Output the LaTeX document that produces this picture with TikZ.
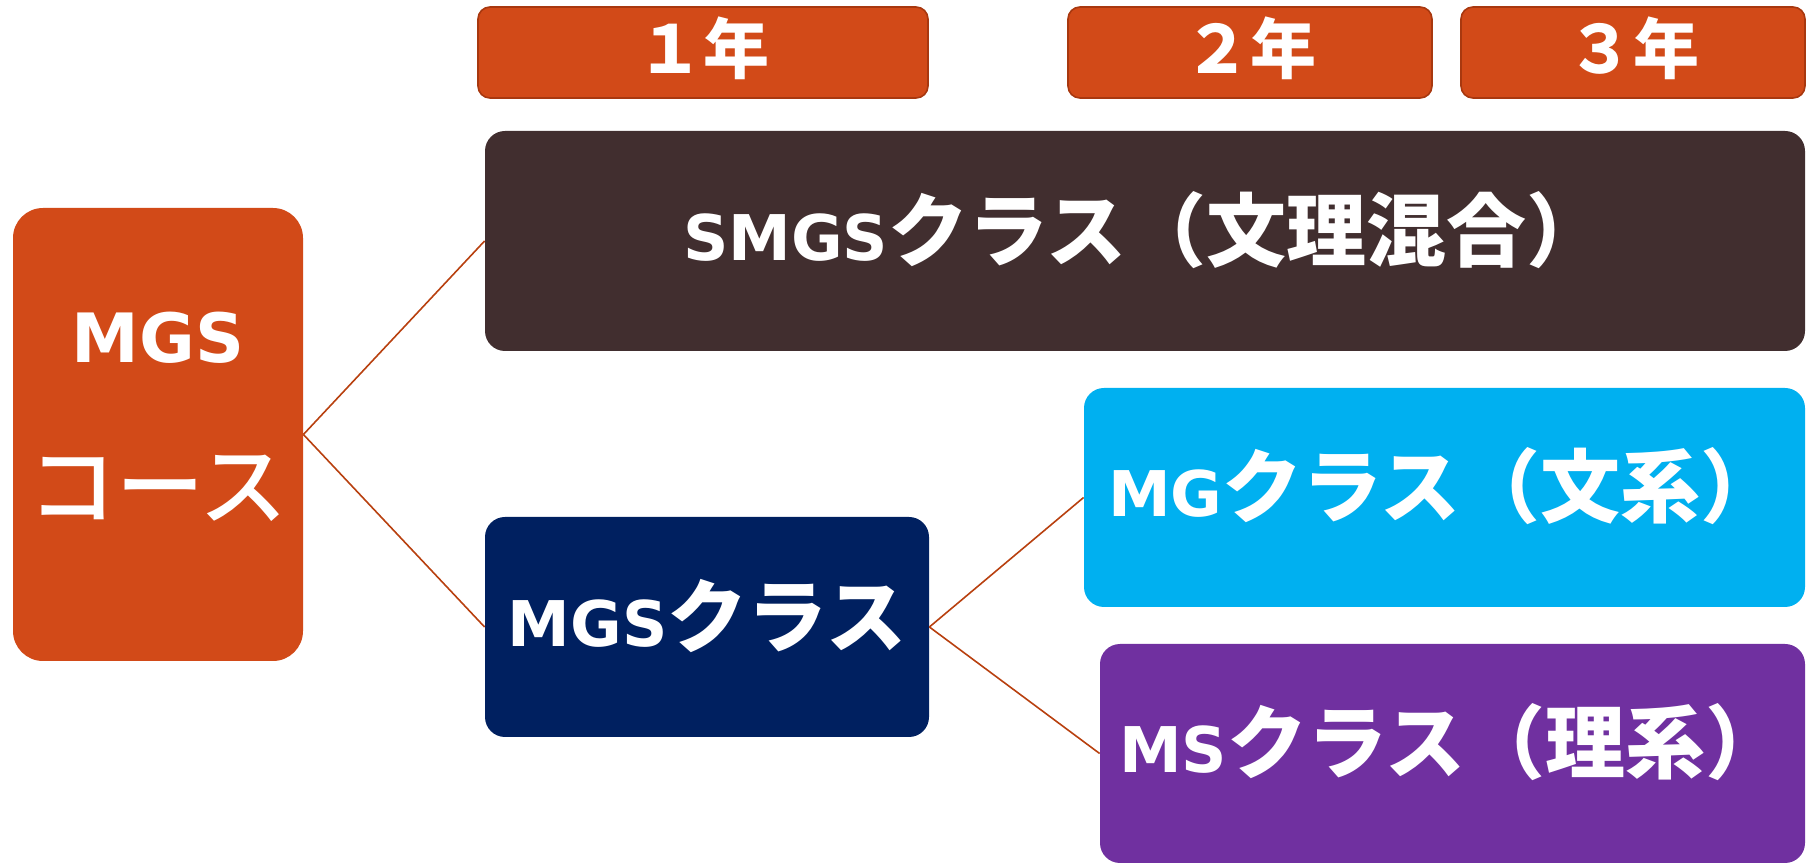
\documentclass[tikz,border=0pt]{standalone}
\usepackage{fontspec}
\setmainfont{Noto Sans CJK JP}
\newfontfamily\latinfont{DejaVu Sans}
\newfontfamily\jpmedium{Noto Sans CJK JP Medium}
\usetikzlibrary{positioning}

\definecolor{courseorange}{HTML}{D24A18}
\definecolor{yearedge}{HTML}{A8380F}
\definecolor{smgsbrown}{HTML}{412E2F}
\definecolor{mgsnavy}{HTML}{002060}
\definecolor{mgcyan}{HTML}{00B0F0}
\definecolor{mspurple}{HTML}{7030A0}
\definecolor{linkred}{HTML}{B8400F}

% latin part of a label, and a small lift of a text line
\newcommand\lat[2][31.5]{{\latinfont\fontsize{#1}{40}\selectfont\bfseries #2}}
\newcommand\lift[2][5.5pt]{\raisebox{#1}[\height][\depth]{#2}}

\begin{document}
\begin{tikzpicture}[
  x=0.5pt, y=-0.5pt,
  classbox/.style={rounded corners=10pt, text=white, align=center, inner sep=0pt,
    font=\fontsize{40}{48}\selectfont\bfseries},
  yearbox/.style={draw=yearedge, line width=0.8pt, fill=courseorange, rounded corners=6pt,
    text=white, inner sep=0pt, minimum height=45.5pt, font=\fontsize{33}{40}\selectfont\bfseries},
  link/.style={line width=0.8pt, draw=linkred}
]
\useasboundingbox (0,0) rectangle (1806,865);

% year headers
\node[yearbox, minimum width=225pt] (year1) at (703,52.5) {\lift[2pt]{１年}};
\node[yearbox, minimum width=182pt] (year2) at (1250,52.5) {\lift[2pt]{２年}};
\node[yearbox, minimum width=172pt] (year3) at (1633,52.5) {\lift[2pt]{３年}};

% course and classes
\node[classbox, fill=courseorange, rounded corners=15pt, minimum width=145pt, minimum height=226.5pt] (course) at (158,434.5)
  {\lift[9pt]{\lat[34]{MGS}}\\[30pt]\lift[9pt]{\jpmedium\mdseries\fontsize{44}{48}\selectfont コース}};
\node[classbox, fill=smgsbrown, minimum width=660pt, minimum height=110pt] (smgs) at (1145,241)
  {\lift{\lat{SMGS}クラス（文理混合）}};
\node[classbox, fill=mgsnavy, minimum width=222pt, minimum height=110pt] (mgs) at (707,627)
  {\lift{\lat{MGS}クラス}};
\node[classbox, fill=mgcyan, minimum width=360.5pt, minimum height=109.5pt] (mg) at (1444.5,497.5)
  {\lift{\lat{MG}クラス（文系）}};
\node[classbox, fill=mspurple, minimum width=352.5pt, minimum height=109.5pt] (ms) at (1452.5,753.5)
  {\lift{\lat{MS}クラス（理系）}};

\draw[link] (course.east) -- (smgs.west);
\draw[link] (course.east) -- (mgs.west);
\draw[link] (mgs.east) -- (mg.west);
\draw[link] (mgs.east) -- (ms.west);

\end{tikzpicture}
\end{document}
